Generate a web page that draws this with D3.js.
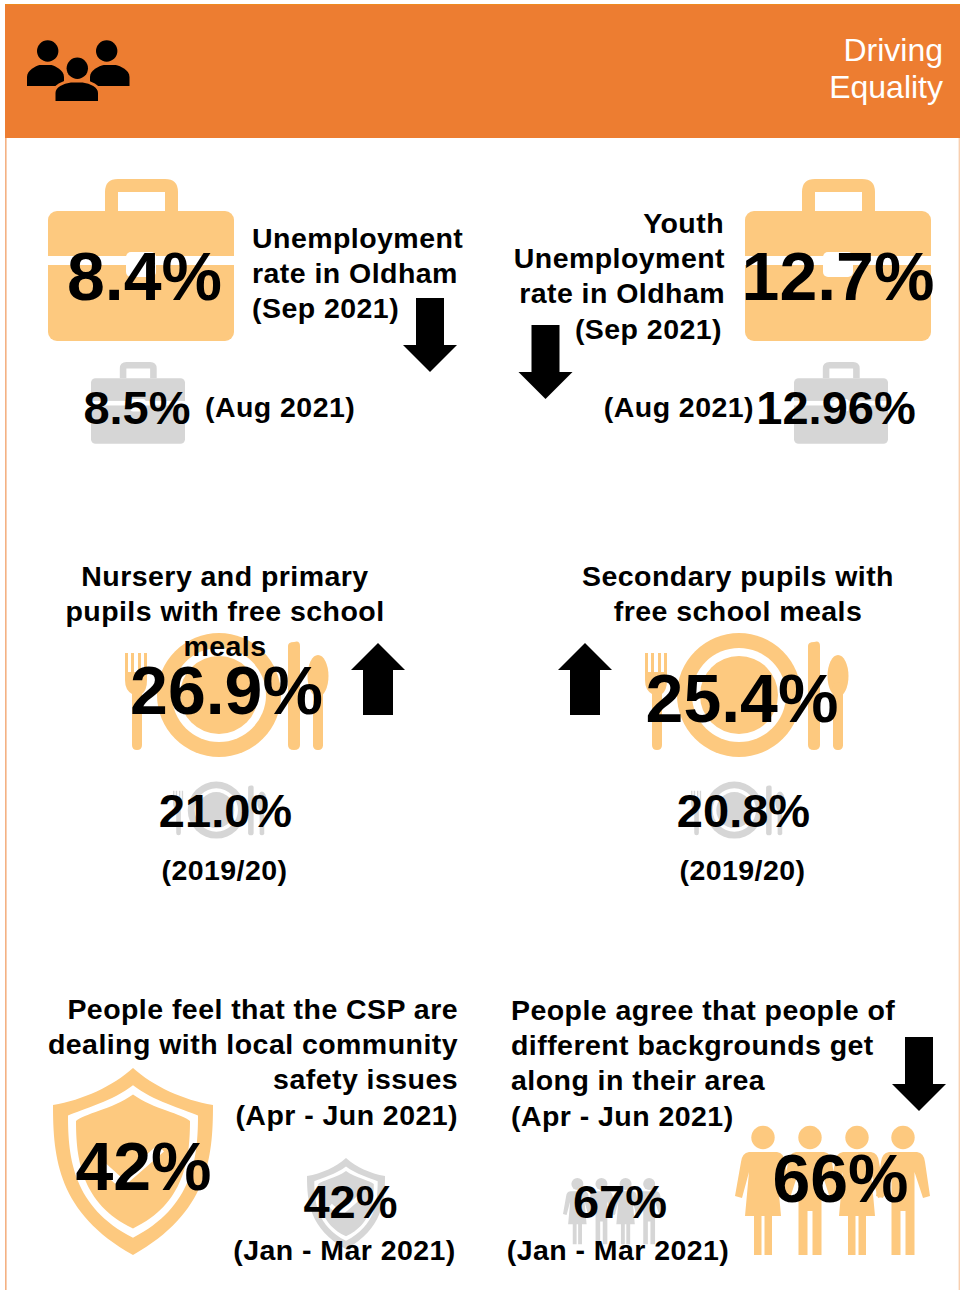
<!DOCTYPE html>
<html>
<head>
<meta charset="utf-8">
<style>
  html, body { margin: 0; padding: 0; background: #fff; }
  svg { display: block; }
  text { font-family: "Liberation Sans", Arial, sans-serif; font-weight: 700; fill: #000; }
</style>
</head>
<body>
<svg id="sheet" width="960" height="1290"></svg>
<script src="https://cdn.jsdelivr.net/npm/d3@7"></script>
<script>
// Headline indicators, in reading order
const indicatorNames = ["Unemployment", "Youth unemployment", "Primary FSM", "Secondary FSM", "CSP safety", "Get along"];
const currentValues = [8.4, 12.7, 26.9, 25.4, 42, 66];
const previousValues = [8.5, 12.96, 21.0, 20.8, 42, 67];
const currentDecimals = [1, 1, 1, 1, 0, 0];
const previousDecimals = [1, 2, 1, 1, 0, 0];
const previousPeriods = ["(Aug 2021)", "(Aug 2021)", "(2019/20)", "(2019/20)", "(Jan - Mar 2021)", "(Jan - Mar 2021)"];
const titleLines = [
  ["Unemployment", "rate in Oldham", "(Sep 2021)"],
  ["Youth", "Unemployment", "rate in Oldham", "(Sep 2021)"],
  ["Nursery and primary", "pupils with free school", "meals"],
  ["Secondary pupils with", "free school meals"],
  ["People feel that the CSP are", "dealing with local community", "safety issues", "(Apr - Jun 2021)"],
  ["People agree that people of", "different backgrounds get", "along in their area", "(Apr - Jun 2021)"]
];
const headerLines = ["Driving", "Equality"];

// Page placement of each indicator's parts
const layout = [
  { icon: "case", big: [48, 179, 186], small: [91, 362, 94],
    title: { x: 252, y: 247.5, anchor: "start", nudge: [] },
    now: { x: 144.5, y: 300 }, prev: { x: 137, y: 424 },
    period: { x: 205, y: 417, anchor: "start" }, arrow: [403, 298] },
  { icon: "case", big: [745, 179, 186], small: [794, 362, 94],
    title: { x: 725, y: 233, anchor: "end", nudge: [-1, 0, 0, -3] },
    now: { x: 838, y: 300 }, prev: { x: 836, y: 424 },
    period: { x: 754, y: 417, anchor: "end" }, arrow: [518.5, 325] },
  { icon: "plate", big: [125, 632, 204], small: [173, 781, 94],
    title: { x: 225, y: 586, anchor: "middle", nudge: [] },
    now: { x: 226.5, y: 714 }, prev: { x: 225.5, y: 827 },
    period: { x: 224.5, y: 880, anchor: "middle" }, arrow: [351, 643] },
  { icon: "plate", big: [645, 632, 204], small: [691, 781, 94],
    title: { x: 738, y: 586, anchor: "middle", nudge: [] },
    now: { x: 742, y: 722 }, prev: { x: 743.5, y: 827 },
    period: { x: 742.5, y: 880, anchor: "middle" }, arrow: [558, 643] },
  { icon: "shield", big: [53, 1068, 160], small: [307, 1158, 78],
    title: { x: 458, y: 1019, anchor: "end", nudge: [] },
    now: { x: 143.5, y: 1190 }, prev: { x: 350.5, y: 1218 },
    period: { x: 344.5, y: 1260, anchor: "middle" }, arrow: null },
  { icon: "people", big: [735, 1126, 195], small: [563, 1178, 100],
    title: { x: 511, y: 1020, anchor: "start", nudge: [] },
    now: { x: 840.5, y: 1202 }, prev: { x: 620, y: 1218 },
    period: { x: 618, y: 1260, anchor: "middle" }, arrow: [892, 1037] }
];

const AMBER = "#fdc97f";
const GREY = "#d6d6d6";
const BAND = "#ed7d31";
const svg = d3.select("#sheet");

// Page frame and header band
svg.append("rect").attr("x", 5).attr("y", 138).attr("width", 1.6).attr("height", 1152).attr("fill", "#f4b183");
svg.append("rect").attr("x", 958.6).attr("y", 138).attr("width", 1.4).attr("height", 1152).attr("fill", "#f8cfb0");
svg.append("rect").attr("x", 5).attr("y", 4).attr("width", 955).attr("height", 134).attr("fill", BAND);
svg.append("rect").attr("x", 5).attr("y", 4).attr("width", 955).attr("height", 1).attr("fill", "#ee8a1e");

svg.append("g").selectAll("text").data(headerLines).join("text")
  .attr("x", 943).attr("y", (d, i) => 60.5 + i * 37)
  .attr("text-anchor", "end").attr("font-size", 32)
  .style("font-weight", 400).style("fill", "#fff").text(d => d);

// Group-of-people glyph in the header
const crowd = svg.append("g").attr("fill", "#000");
function crowdMember(headX, headY, left, right, top, bottom, gap) {
  const mid = (left + right) / 2;
  crowd.append("path")
    .attr("stroke", gap ? BAND : "none").attr("stroke-width", gap)
    .attr("d", `M${left},${bottom} V${top + 12} C${left},${top + 5} ${left + 9},${top + 1} ${mid - 6},${top} ` +
               `H${mid + 6} C${right - 9},${top + 1} ${right},${top + 5} ${right},${top + 12} V${bottom} Z`);
  crowd.append("circle").attr("cx", headX).attr("cy", headY).attr("r", 12).attr("fill", BAND);
  crowd.append("circle").attr("cx", headX).attr("cy", headY).attr("r", 10.7);
}
crowdMember(47.7, 51, 27, 64, 65, 86, 0);
crowdMember(106.7, 51, 90, 129.5, 65, 86, 0);
crowdMember(77.3, 68.3, 54, 99.5, 81, 102.5, 3);

// Icon drawers: each works in a box 100 units wide
const icons = {
  case(g, colour) {
    const u = v => v * 100 / 186;
    g.append("path").attr("fill", colour).attr("d",
      `M${u(57)},${u(32)} V${u(13)} Q${u(57)},0 ${u(70)},0 H${u(117)} Q${u(130)},0 ${u(130)},${u(13)} V${u(32)} H${u(117)} V${u(13)} H${u(70)} V${u(32)} Z`);
    g.append("rect").attr("y", u(32)).attr("width", 100).attr("height", u(130)).attr("rx", u(9)).attr("fill", colour);
    g.append("rect").attr("y", u(77)).attr("width", 100).attr("height", u(9)).attr("fill", "#fff");
    g.append("rect").attr("x", u(78)).attr("y", u(73)).attr("width", u(30)).attr("height", u(25)).attr("rx", u(5)).attr("fill", "#fff");
  },
  plate(g, colour) {
    const u = v => v * 100 / 204;
    g.append("circle").attr("cx", u(94)).attr("cy", u(63)).attr("r", u(62)).attr("fill", colour);
    g.append("circle").attr("cx", u(94)).attr("cy", u(63)).attr("r", u(47)).attr("fill", "#fff");
    g.append("circle").attr("cx", u(94)).attr("cy", u(63)).attr("r", u(39)).attr("fill", colour);
    // fork
    g.append("path").attr("fill", colour).attr("d",
      `M0,${u(21)} H${u(3)} V${u(40)} H${u(6)} V${u(21)} H${u(9)} V${u(40)} H${u(13)} V${u(21)} H${u(16)} V${u(40)} H${u(19)} V${u(21)} H${u(22)} V${u(48)} Q${u(22)},${u(58)} ${u(17)},${u(62)} V${u(113)} Q${u(17)},${u(118)} ${u(12)},${u(118)} Q${u(7)},${u(118)} ${u(7)},${u(113)} V${u(62)} Q0,${u(58)} 0,${u(48)} Z`);
    // knife
    g.append("path").attr("fill", colour).attr("d",
      `M${u(169)},${u(10)} Q${u(175)},${u(8)} ${u(175)},${u(14)} V${u(113)} Q${u(175)},${u(118)} ${u(169)},${u(118)} Q${u(163)},${u(118)} ${u(163)},${u(113)} V${u(14)} Q${u(163)},${u(10)} ${u(169)},${u(10)} Z`);
    // spoon
    g.append("ellipse").attr("cx", u(193)).attr("cy", u(44)).attr("rx", u(10.5)).attr("ry", u(21)).attr("fill", colour);
    g.append("rect").attr("x", u(188)).attr("y", u(50)).attr("width", u(10)).attr("height", u(68)).attr("rx", u(4.5)).attr("fill", colour);
  },
  shield(g, colour) {
    const u = v => v * 100 / 160;
    const outline = (inset) =>
      `M${u(80)},${u(inset * 1.15)} C${u(100)},${u(18 + inset)} ${u(130)},${u(32 + inset * 0.6)} ${u(160 - inset)},${u(37 + inset * 0.7)} ` +
      `C${u(160 - inset)},${u(90)} ${u(155 - inset)},${u(145 - inset * 0.4)} ${u(80)},${u(187 - inset * 1.15)} ` +
      `C${u(5 + inset)},${u(145 - inset * 0.4)} ${u(inset)},${u(90)} ${u(inset)},${u(37 + inset * 0.7)} ` +
      `C${u(30)},${u(32 + inset * 0.6)} ${u(60)},${u(18 + inset)} ${u(80)},${u(inset * 1.15)} Z`;
    g.append("path").attr("d", outline(0)).attr("fill", colour);
    g.append("path").attr("d", outline(15)).attr("fill", "#fff");
    g.append("path").attr("d", outline(23)).attr("fill", colour);
    g.append("path").attr("d", `M${u(48)},${u(97)} L${u(68)},${u(115)} L${u(108)},${u(80)}`)
      .attr("fill", "none").attr("stroke", "#fff").attr("stroke-width", u(9));
  },
  people(g, colour) {
    const u = v => v * 100 / 195;
    const head = cx => g.append("circle").attr("cx", u(cx)).attr("cy", u(11.5)).attr("r", u(11.7)).attr("fill", colour);
    const woman = cx => {
      head(cx);
      g.append("path").attr("fill", colour).attr("d",
        `M${u(cx - 14)},${u(26)} H${u(cx + 14)} Q${u(cx + 21)},${u(27)} ${u(cx + 22)},${u(36)} L${u(cx + 28)},${u(70)} L${u(cx + 21)},${u(72)} L${u(cx + 14)},${u(46)} L${u(cx + 18)},${u(90)} H${u(cx + 9)} V${u(129)} H${u(cx + 1.5)} V${u(90)} H${u(cx - 1.5)} V${u(129)} H${u(cx - 9)} V${u(90)} H${u(cx - 18)} L${u(cx - 14)},${u(46)} L${u(cx - 21)},${u(72)} L${u(cx - 28)},${u(70)} L${u(cx - 22)},${u(36)} Q${u(cx - 21)},${u(27)} ${u(cx - 14)},${u(26)} Z`);
    };
    const man = cx => {
      head(cx);
      g.append("path").attr("fill", colour).attr("d",
        `M${u(cx - 14)},${u(26)} H${u(cx + 14)} Q${u(cx + 21)},${u(27)} ${u(cx + 22)},${u(36)} L${u(cx + 27)},${u(70)} L${u(cx + 20)},${u(72)} L${u(cx + 11.5)},${u(46)} V${u(129)} H${u(cx + 2.5)} V${u(85)} H${u(cx - 2.5)} V${u(129)} H${u(cx - 11.5)} V${u(46)} L${u(cx - 20)},${u(72)} L${u(cx - 27)},${u(70)} L${u(cx - 22)},${u(36)} Q${u(cx - 21)},${u(27)} ${u(cx - 14)},${u(26)} Z`);
    };
    woman(28); man(75); woman(122); man(168);
  }
};

function placeIcon(kind, [x, y, width], colour) {
  const g = svg.append("g").attr("transform", `translate(${x},${y}) scale(${width / 100})`);
  icons[kind](g, colour);
}

// Trend arrow: points down when the figure fell, up when it rose, absent when flat
function drawArrow([x, y], rising) {
  const w = 54, h = rising ? 72 : 74, shaft = rising ? 15 : 14, headLen = 27;
  const cx = x + w / 2;
  const pts = rising
    ? [[cx, y], [x + w, y + headLen], [cx + shaft, y + headLen], [cx + shaft, y + h], [cx - shaft, y + h], [cx - shaft, y + headLen], [x, y + headLen]]
    : [[cx - shaft, y], [cx + shaft, y], [cx + shaft, y + h - headLen], [x + w, y + h - headLen], [cx, y + h], [x, y + h - headLen], [cx - shaft, y + h - headLen]];
  svg.append("path").attr("d", d3.line()(pts) + "Z").attr("fill", "#000");
}

const sizes = { title: 28.5, now: 68, prev: 47, period: 28.5 };
const spacing = 0.45;
const linePitch = 35.2;

layout.forEach((place, i) => {
  placeIcon(place.icon, place.big, AMBER);
  placeIcon(place.icon, place.small, GREY);

  const cur = currentValues[i], prev = previousValues[i];
  if (place.arrow && cur !== prev) drawArrow(place.arrow, cur > prev);

  svg.append("g").attr("data-indicator", indicatorNames[i]).selectAll("text").data(titleLines[i]).join("text")
    .attr("x", (d, n) => place.title.x + (place.title.nudge[n] || 0))
    .attr("y", (d, n) => place.title.y + n * linePitch)
    .attr("text-anchor", place.title.anchor)
    .attr("font-size", sizes.title).attr("letter-spacing", spacing).text(d => d);

  svg.append("text").attr("x", place.now.x).attr("y", place.now.y)
    .attr("text-anchor", "middle").attr("font-size", sizes.now)
    .text(d3.format(`.${currentDecimals[i]}f`)(cur) + "%");

  svg.append("text").attr("x", place.prev.x).attr("y", place.prev.y)
    .attr("text-anchor", "middle").attr("font-size", sizes.prev)
    .text(d3.format(`.${previousDecimals[i]}f`)(prev) + "%");

  svg.append("text").attr("x", place.period.x).attr("y", place.period.y)
    .attr("text-anchor", place.period.anchor).attr("font-size", sizes.period)
    .attr("letter-spacing", spacing).text(previousPeriods[i]);
});
</script>
</body>
</html>
